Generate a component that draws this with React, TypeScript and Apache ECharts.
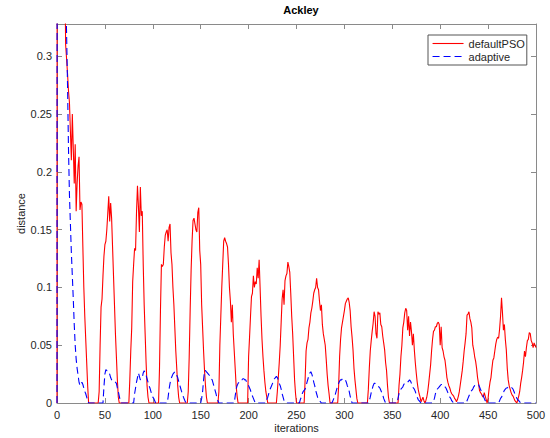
import React, { useEffect, useRef } from 'react';
import * as echarts from 'echarts';

const chartTitle = 'Ackley';
const xName = 'iterations';
const yName = 'distance';
const seriesNames = ['defaultPSO', 'adaptive'];
const xMin = 0;
const xMax = 500;
const xStep = 50;
const yMin = 0;
const yMax = 0.328;
const yStep = 0.05;

const defaultPSO: [number, number][] = [
  [0,0],[1,3],[4,1.5],[7,0.6],[8,0.4],[9,0.31],[10,0.298],[11,0.285],[12,0.27],[13,0.26],[14,0.235],[15,0.21],[16,0.25],[17,0.22],[18,0.19],[19,0.224],[20,0.166],[21,0.19],[22,0.205],[23,0.213],[24,0.167],[25,0.174],[26,0.172],[27,0.135],[28,0.1],[29,0.075],[30,0.055],[31,0.035],[32,0.015],[33,0],
  [43,0],[44,0.01],[45,0.05],[46,0.083],[47,0.09],[48,0.11],[49,0.127],[50,0.137],[51,0.14],[52,0.15],[53,0.164],[54,0.179],[55,0.157],[56,0.173],[57,0.16],[58,0.135],[59,0.11],[60,0.085],[61,0.06],[62,0.04],[63,0.02],[64,0.005],[65,0],
  [75,0],[76,0.02],[77,0.045],[78,0.065],[79,0.105],[80,0.12],[81,0.134],[82,0.132],[83,0.165],[84,0.188],[85,0.17],[86,0.148],[87,0.187],[88,0.162],[89,0.166],[90,0.12],[91,0.085],[92,0.06],[93,0.035],[94,0.015],[95,0.005],[96,0],
  [106,0],[107,0.03],[108,0.08],[109,0.12],[110,0.118],[111,0.12],[112,0.135],[113,0.145],[114,0.148],[115,0.15],[116,0.14],[117,0.152],[118,0.155],[119,0.13],[120,0.12],[121,0.1],[122,0.085],[123,0.065],[124,0.045],[125,0.03],[126,0.015],[127,0.005],[128,0],
  [136,0],[137,0.01],[138,0.04],[139,0.08],[140,0.115],[141,0.14],[142,0.158],[143,0.16],[144,0.155],[145,0.15],[146,0.148],[147,0.165],[148,0.169],[149,0.132],[150,0.12],[151,0.085],[152,0.065],[153,0.045],[154,0.028],[155,0.015],[156,0.005],[157,0],
  [168,0],[169,0.01],[170,0.05],[171,0.075],[172,0.1],[173,0.12],[174,0.14],[175,0.143],[176,0.14],[177,0.138],[178,0.135],[179,0.12],[180,0.1],[181,0.088],[182,0.07],[183,0.085],[184,0.06],[185,0.045],[186,0.03],[187,0.015],[188,0.006],[189,0],
  [199,0],[200,0.04],[201,0.057],[202,0.075],[203,0.092],[204,0.095],[205,0.11],[206,0.1],[207,0.105],[208,0.103],[209,0.117],[210,0.108],[211,0.124],[212,0.1],[213,0.075],[214,0.055],[215,0.04],[216,0.028],[217,0.018],[218,0.01],[219,0.005],[220,0],
  [229,0],[230,0.01],[231,0.022],[232,0.035],[233,0.05],[234,0.07],[235,0.09],[236,0.098],[237,0.085],[238,0.106],[239,0.11],[240,0.112],[241,0.122],[242,0.118],[243,0.113],[244,0.095],[245,0.075],[246,0.06],[247,0.04],[248,0.02],[249,0.008],[250,0],
  [258,0],[259,0.02],[260,0.045],[261,0.052],[262,0.055],[263,0.065],[264,0.07],[265,0.078],[266,0.082],[267,0.088],[268,0.095],[269,0.098],[270,0.1],[271,0.108],[272,0.1],[273,0.098],[274,0.088],[275,0.08],[276,0.085],[277,0.068],[278,0.06],[279,0.055],[280,0.05],[281,0.038],[282,0.025],[283,0.015],[284,0.008],[285,0],
  [293,0],[294,0.015],[295,0.04],[296,0.055],[297,0.065],[298,0.07],[299,0.075],[300,0.08],[301,0.086],[302,0.088],[303,0.09],[304,0.091],[305,0.087],[306,0.08],[307,0.066],[308,0.057],[309,0.046],[310,0.03],[311,0.02],[312,0.012],[313,0.004],[314,0],
  [324,0],[325,0.012],[326,0.03],[327,0.045],[328,0.054],[329,0.062],[330,0.069],[331,0.079],[332,0.075],[333,0.06],[334,0.056],[335,0.079],[336,0.077],[337,0.078],[338,0.068],[339,0.066],[340,0.058],[341,0.052],[342,0.046],[343,0.035],[344,0.028],[345,0.015],[346,0.005],[347,0],
  [356,0],[357,0.015],[358,0.025],[359,0.04],[360,0.05],[361,0.065],[362,0.07],[363,0.078],[364,0.082],[365,0.08],[366,0.063],[367,0.075],[368,0.058],[369,0.07],[370,0.062],[371,0.05],[372,0.06],[373,0.046],[374,0.035],[375,0.026],[376,0.018],[377,0.012],[378,0.008],[379,0.005],[380,0.001],[381,0.003],[382,0.005],[383,0.002],[384,0],
  [385,0.002],[386,0.005],[387,0.01],[388,0.017],[389,0.025],[390,0.033],[391,0.045],[392,0.055],[393,0.062],[394,0.063],[395,0.066],[396,0.066],[397,0.069],[398,0.07],[399,0.068],[400,0.05],[401,0.066],[402,0.048],[403,0.045],[404,0.04],[405,0.037],[406,0.03],[407,0.022],[408,0.018],[409,0.015],[410,0.013],[411,0.01],[412,0.008],[413,0.007],[414,0.006],[415,0.004],[416,0.003],[417,0.001],[418,0.003],
  [419,0.006],[420,0.01],[421,0.016],[422,0.022],[423,0.028],[424,0.036],[425,0.045],[426,0.052],[427,0.06],[428,0.076],[429,0.077],[430,0.079],[431,0.073],[432,0.07],[433,0.065],[434,0.05],[435,0.046],[436,0.04],[437,0.036],[438,0.03],[439,0.022],[440,0.017],[441,0.011],[442,0.009],[443,0.008],[444,0.006],[445,0.005],[446,0.009],[447,0.006],[448,0.003],[449,0],
  [450,0.004],[451,0.012],[452,0.018],[453,0.022],[454,0.03],[455,0.037],[456,0.039],[457,0.045],[458,0.051],[459,0.055],[460,0.057],[461,0.056],[462,0.064],[463,0.075],[464,0.091],[465,0.078],[466,0.063],[467,0.068],[468,0.055],[469,0.046],[470,0.03],[471,0.02],[472,0.015],[473,0.012],[474,0.009],[475,0.007],[476,0.006],[477,0.004],[478,0.002],[479,0.001],[480,0],
  [481,0.003],[482,0.006],[483,0.01],[484,0.017],[485,0.022],[486,0.028],[487,0.035],[488,0.045],[489,0.04],[490,0.048],[491,0.054],[492,0.055],[493,0.061],[494,0.06],[495,0.054],[496,0.052],[497,0.048],[498,0.052],[499,0.05],[500,0.048],
];

const adaptive: [number, number][] = [
  [0,0],[1,3],[4,1.6],[7,0.8],[8,0.55],[9,0.36],[10,0.32],[11,0.275],[12,0.22],[13,0.18],[14,0.155],[15,0.13],[16,0.11],[17,0.09],[18,0.068],[19,0.05],[20,0.038],[21,0.03],[22,0.024],[23,0.018],[24,0.015],[25,0.016],[26,0.018],[27,0.016],[28,0.013],[29,0.01],[30,0.008],[31,0.005],[32,0.002],[33,0],
  [48,0],[49,0.014],[50,0.025],[51,0.029],[52,0.028],[53,0.028],[54,0.026],[55,0.025],[56,0.022],[57,0.02],[58,0.019],[59,0.018],[60,0.018],[61,0.018],[62,0.017],[63,0.013],[64,0.01],[65,0.006],[66,0.002],[67,0],
  [80,0],[81,0.008],[82,0.013],[83,0.018],[84,0.022],[85,0.026],[86,0.023],[87,0.02],[88,0.021],[89,0.022],[90,0.026],[91,0.028],[92,0.026],[93,0.024],[94,0.021],[95,0.018],[96,0.015],[97,0.013],[98,0.01],[99,0.007],[100,0.005],[101,0.004],[102,0.002],[103,0],
  [115,0],[116,0.005],[117,0.012],[118,0.017],[119,0.021],[120,0.023],[121,0.025],[122,0.026],[123,0.027],[124,0.026],[125,0.024],[126,0.022],[127,0.019],[128,0.016],[129,0.013],[130,0.01],[131,0.008],[132,0.005],[133,0.003],[134,0.001],[135,0],
  [150,0],[151,0.004],[152,0.01],[153,0.02],[154,0.028],[155,0.028],[156,0.027],[157,0.026],[158,0.025],[159,0.024],[160,0.023],[161,0.021],[162,0.02],[163,0.017],[164,0.014],[165,0.011],[166,0.008],[167,0.004],[168,0.002],[169,0],
  [185,0],[186,0.006],[187,0.012],[188,0.015],[189,0.017],[190,0.018],[191,0.019],[192,0.02],[193,0.02],[194,0.021],[195,0.021],[196,0.02],[197,0.02],[198,0.018],[199,0.017],[200,0.015],[201,0.013],[202,0.011],[203,0.008],[204,0.006],[205,0.004],[206,0.002],[207,0],
  [218,0],[219,0.003],[220,0.005],[221,0.008],[222,0.011],[223,0.013],[224,0.015],[225,0.017],[226,0.019],[227,0.021],[228,0.022],[229,0.023],[230,0.022],[231,0.02],[232,0.017],[233,0.015],[234,0.012],[235,0.008],[236,0.005],[237,0.002],[238,0.001],[239,0],
  [253,0],[254,0.003],[255,0.005],[256,0.008],[257,0.01],[258,0.011],[259,0.012],[260,0.015],[261,0.018],[262,0.021],[263,0.024],[264,0.026],[265,0.027],[266,0.025],[267,0.022],[268,0.018],[269,0.015],[270,0.011],[271,0.008],[272,0.005],[273,0.003],[274,0.002],[275,0.001],[276,0],
  [287,0],[288,0.002],[289,0.004],[290,0.006],[291,0.009],[292,0.012],[293,0.015],[294,0.017],[295,0.019],[296,0.02],[297,0.02],[298,0.021],[299,0.021],[300,0.021],[301,0.02],[302,0.018],[303,0.015],[304,0.013],[305,0.01],[306,0.006],[307,0.003],[308,0],
  [325,0],[326,0.002],[327,0.005],[328,0.009],[329,0.012],[330,0.015],[331,0.017],[332,0.017],[333,0.016],[334,0.015],[335,0.014],[336,0.014],[337,0.013],[338,0.011],[339,0.009],[340,0.007],[341,0.004],[342,0.002],[343,0],
  [355,0],[356,0.004],[357,0.008],[358,0.01],[359,0.012],[360,0.013],[361,0.014],[362,0.016],[363,0.017],[364,0.018],[365,0.018],[366,0.018],[367,0.019],[368,0.02],[369,0.019],[370,0.017],[371,0.015],[372,0.013],[373,0.012],[374,0.01],[375,0.007],[376,0.005],[377,0.003],[378,0.002],[379,0.001],[380,0],
  [392,0],[393,0.002],[394,0.004],[395,0.008],[396,0.01],[397,0.012],[398,0.013],[399,0.014],[400,0.015],[401,0.016],[402,0.016],[403,0.016],[404,0.015],[405,0.014],[406,0.013],[407,0.011],[408,0.009],[409,0.007],[410,0.005],[411,0.004],[412,0.002],[413,0.001],[414,0],
  [427,0],[428,0.002],[429,0.004],[430,0.006],[431,0.008],[432,0.01],[433,0.011],[434,0.012],[435,0.014],[436,0.015],[437,0.015],[438,0.015],[439,0.016],[440,0.016],[441,0.014],[442,0.012],[443,0.01],[444,0.008],[445,0.006],[446,0.004],[447,0.002],[448,0.001],[449,0],
  [461,0],[462,0.002],[463,0.004],[464,0.005],[465,0.007],[466,0.009],[467,0.011],[468,0.012],[469,0.013],[470,0.013],[471,0.014],[472,0.014],[473,0.014],[474,0.014],[475,0.013],[476,0.012],[477,0.01],[478,0.008],[479,0.006],[480,0.004],[481,0.003],[482,0.002],[483,0.001],[484,0],[500,0],
];

const FONT = "'Liberation Sans', Arial, Helvetica, sans-serif";
const AXIS_COLOR = '#8a8a8a';
const TEXT_COLOR = '#262626';

export default function App() {
  const ref = useRef<HTMLDivElement>(null);

  useEffect(() => {
    if (!ref.current) return;
    const chart = echarts.init(ref.current, null, { renderer: 'svg' });
    const lineStyle = { color: AXIS_COLOR, width: 1 };
    const xBase = {
      type: 'value',
      min: xMin,
      max: xMax,
      interval: xStep,
      splitLine: { show: false },
      axisLine: { show: true, onZero: false, lineStyle },
      axisTick: { show: true, inside: true, length: 5, lineStyle },
    };
    const yBase = {
      type: 'value',
      min: yMin,
      max: yMax,
      interval: yStep,
      splitLine: { show: false },
      axisLine: { show: true, onZero: false, lineStyle },
      axisTick: { show: true, inside: true, length: 5, lineStyle },
    };
    chart.setOption({
      animation: false,
      backgroundColor: '#ffffff',
      title: {
        text: chartTitle,
        left: 296,
        top: -1,
        textAlign: 'center',
        textStyle: { fontFamily: FONT, fontSize: 11, fontWeight: 'bold', color: '#000' },
      },
      legend: {
        orient: 'vertical',
        left: 428,
        top: 35,
        padding: [3, 2, 3, 4],
        itemWidth: 31,
        itemHeight: 10,
        itemGap: 2,
        borderColor: '#555',
        borderWidth: 1,
        borderRadius: 0,
        backgroundColor: '#fff',
        itemStyle: { opacity: 0 },
        lineStyle: { width: 1.1 },
        textStyle: { fontFamily: FONT, fontSize: 11, color: TEXT_COLOR },
        data: seriesNames,
      },
      grid: { left: 57, top: 24, width: 479, height: 379, containLabel: false },
      xAxis: [
        {
          ...xBase,
          position: 'bottom',
          name: xName,
          nameLocation: 'middle',
          nameGap: 19,
          nameMoveOverlap: false,
          nameTextStyle: { fontFamily: FONT, fontSize: 11, color: TEXT_COLOR },
          axisLabel: { fontFamily: FONT, fontSize: 11, color: TEXT_COLOR, margin: 6 },
        },
        { ...xBase, position: 'top', axisLabel: { show: false } },
      ],
      yAxis: [
        {
          ...yBase,
          position: 'left',
          name: yName,
          nameLocation: 'middle',
          nameGap: 31,
          nameMoveOverlap: false,
          nameTextStyle: { fontFamily: FONT, fontSize: 11, color: TEXT_COLOR },
          axisLabel: {
            fontFamily: FONT,
            fontSize: 11,
            color: TEXT_COLOR,
            margin: 5,
            showMaxLabel: false,
            formatter: (v: number) => String(+v.toFixed(2)),
          },
        },
        { ...yBase, position: 'right', axisLabel: { show: false } },
      ],
      series: [
        {
          name: seriesNames[0],
          type: 'line',
          xAxisIndex: 0,
          yAxisIndex: 0,
          data: defaultPSO,
          symbol: 'none',
          showSymbol: false,
          clip: true,
          lineStyle: { color: '#ff0000', width: 1.1 },
          itemStyle: { color: '#ff0000' },
        },
        {
          name: seriesNames[1],
          type: 'line',
          xAxisIndex: 0,
          yAxisIndex: 0,
          data: adaptive,
          symbol: 'none',
          showSymbol: false,
          clip: true,
          lineStyle: { color: '#0000ff', width: 1.1, type: [7, 4] },
          itemStyle: { color: '#0000ff' },
        },
      ],
    });
    return () => chart.dispose();
  }, []);

  return (
    <div
      ref={ref}
      style={{ position: 'fixed', left: 0, top: 0, width: 550, height: 438, background: '#fff' }}
    />
  );
}
